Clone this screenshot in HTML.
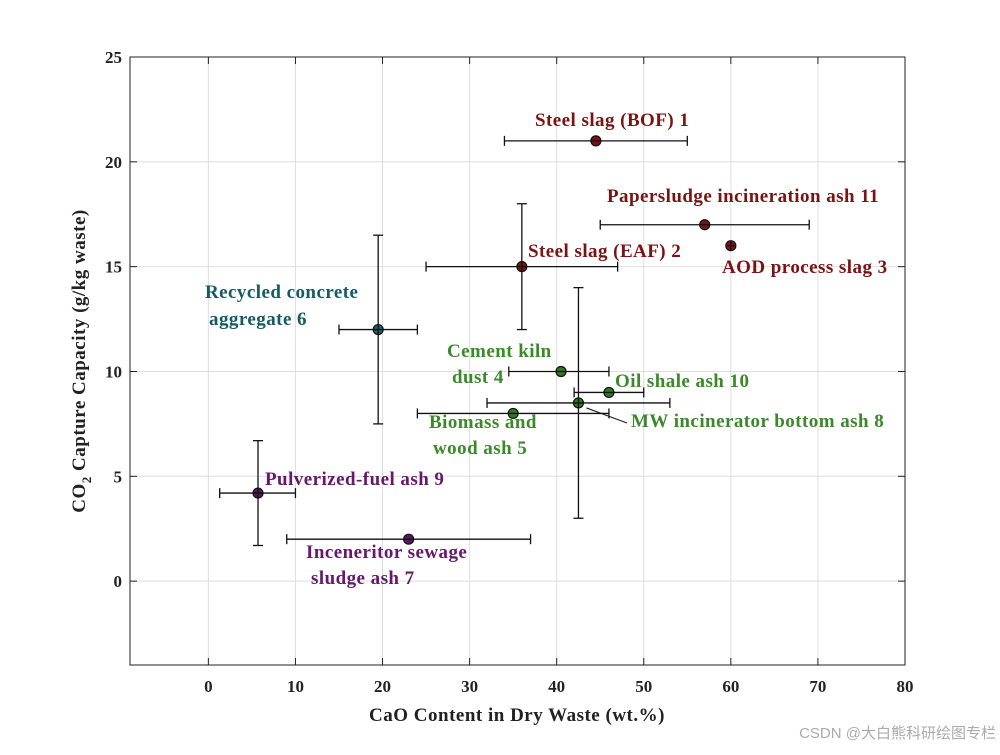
<!DOCTYPE html>
<html><head><meta charset="utf-8"><style>
body{margin:0;background:#fff}
svg text{font-family:"Liberation Serif",serif;font-weight:bold}
</style></head><body>
<svg width="1000" height="750" id="c">
<rect x="0" y="0" width="1000" height="750" fill="#fff"/>
<g id="grid"></g>
<g id="marks"></g>
<rect x="130" y="57" width="775" height="608" fill="none" stroke="#222" stroke-width="1"/>
<g id="ticks"></g>
<text x="517" y="721" font-size="19" letter-spacing="0.5" text-anchor="middle" fill="#222">CaO Content in Dry Waste (wt.%)</text>
<text transform="translate(85,361) rotate(-90)" font-size="19" letter-spacing="0.5" text-anchor="middle" fill="#222">CO<tspan font-size="13" dy="6">2</tspan><tspan dy="-6"> Capture Capacity (g/kg waste)</tspan></text>
<text x="996" y="738" font-size="15" text-anchor="end" fill="#aaa" style="font-family:'Liberation Sans','Noto Sans CJK SC',sans-serif;font-weight:normal">CSDN @大白熊科研绘图专栏</text>
</svg>
<script>
const names=["Steel slag (BOF) 1","Steel slag (EAF) 2","AOD process slag 3","Cement kiln dust 4","Biomass and wood ash 5","Recycled concrete aggregate 6","Inceneritor sewage sludge ash 7","MW incinerator bottom ash 8","Pulverized-fuel ash 9","Oil shale ash 10","Papersludge incineration ash 11"];
const xVals=[44.5,36,60,40.5,35,19.5,23,42.5,5.7,46,57];
const yVals=[21,15,16,10,8,12,2,8.5,4.2,9,17];
const xLo=[34,25,59.6,34.5,24,15,9,32,1.3,42,45];
const xHi=[55,47,60.4,46,46,24,37,53,10,50,69];
const yLo=[21,12,15.8,10,8,7.5,2,3,1.7,9,17];
const yHi=[21,18,16.2,10,8,16.5,2,14,6.7,9,17];
const groups=[0,0,0,1,1,2,3,1,3,1,0];
const xTicks=[0,10,20,30,40,50,60,70,80];
const yTicks=[0,5,10,15,20,25];
const fills=["#7a1414","#2f7a1f","#1a6470","#5a1660"];
const txt=["#7a1414","#3a8a2a","#155a66","#66186a"];
const labels=[
 [[535,126,"Steel slag (BOF) 1"]],
 [[528,257,"Steel slag (EAF) 2"]],
 [[722,273,"AOD process slag 3"]],
 [[447,357,"Cement kiln"],[452,383,"dust 4"]],
 [[429,428,"Biomass and"],[433,454,"wood ash 5"]],
 [[205,298,"Recycled concrete"],[209,325,"aggregate 6"]],
 [[306,558,"Inceneritor sewage"],[311,584,"sludge ash 7"]],
 [[631,427,"MW incinerator bottom ash 8"]],
 [[265,485,"Pulverized-fuel ash 9"]],
 [[615,387,"Oil shale ash 10"]],
 [[607,202,"Papersludge incineration ash 11"]]];
const X=v=>130+(v+9)*775/89, Y=v=>665-(v+4)*608/29;
const NS="http://www.w3.org/2000/svg";
function mk(p,t,a){const e=document.createElementNS(NS,t);for(const k in a)e.setAttribute(k,a[k]);p.appendChild(e);return e;}
const grid=document.getElementById('grid'),ticks=document.getElementById('ticks'),marks=document.getElementById('marks');
xTicks.forEach(t=>{const g=mk(grid,'line',{x1:X(t),x2:X(t),y1:57,y2:665,stroke:'#dedede'});


mk(ticks,'line',{x1:X(t),x2:X(t),y1:665,y2:658,stroke:'#222'});mk(ticks,'line',{x1:X(t),x2:X(t),y1:57,y2:64,stroke:'#222'});
const l=mk(ticks,'text',{x:X(t),y:692,'font-size':17,'text-anchor':'middle',fill:'#222'});l.textContent=t;

});
yTicks.forEach(t=>{const g=mk(grid,'line',{x1:130,x2:905,y1:Y(t),y2:Y(t),stroke:'#dedede'});


mk(ticks,'line',{x1:130,x2:137,y1:Y(t),y2:Y(t),stroke:'#222'});mk(ticks,'line',{x1:898,x2:905,y1:Y(t),y2:Y(t),stroke:'#222'});
const l=mk(ticks,'text',{x:122,y:Y(t)+6,'font-size':17,'text-anchor':'end',fill:'#222'});l.textContent=t;

});
mk(marks,'line',{x1:X(xVals[7])+8,y1:Y(yVals[7])+5,x2:627,y2:423,stroke:'#222','stroke-width':1.2});
xVals.forEach((xv,i)=>{const g=mk(marks,'g',{});


mk(g,'circle',{cx:X(xv),cy:Y(yVals[i]),r:5,fill:fills[groups[i]],stroke:'#111','stroke-width':1.2});
const s={stroke:'#111','stroke-width':1.3};
const xs=X(xHi[i])-X(xLo[i]), c1=xs<12?Math.min(3,xs/2):5;
mk(g,'line',Object.assign({x1:X(xLo[i]),x2:X(xHi[i]),y1:Y(yVals[i]),y2:Y(yVals[i])},s));
if(xs>=12){mk(g,'line',Object.assign({x1:X(xLo[i]),x2:X(xLo[i]),y1:Y(yVals[i])-5,y2:Y(yVals[i])+5},s));
mk(g,'line',Object.assign({x1:X(xHi[i]),x2:X(xHi[i]),y1:Y(yVals[i])-5,y2:Y(yVals[i])+5},s));}
if(yHi[i]>yLo[i]){const ys=Y(yLo[i])-Y(yHi[i]);
mk(g,'line',Object.assign({x1:X(xv),x2:X(xv),y1:Y(yLo[i]),y2:Y(yHi[i])},s));
if(ys>=12){mk(g,'line',Object.assign({x1:X(xv)-5,x2:X(xv)+5,y1:Y(yLo[i]),y2:Y(yLo[i])},s));
mk(g,'line',Object.assign({x1:X(xv)-5,x2:X(xv)+5,y1:Y(yHi[i]),y2:Y(yHi[i])},s));}}
labels[i].forEach(([lx,ly,tx])=>{const t=mk(g,'text',{x:lx,y:ly,'font-size':19,'letter-spacing':0.45,fill:txt[groups[i]]});t.textContent=tx;

});
});
</script>
</body></html>
